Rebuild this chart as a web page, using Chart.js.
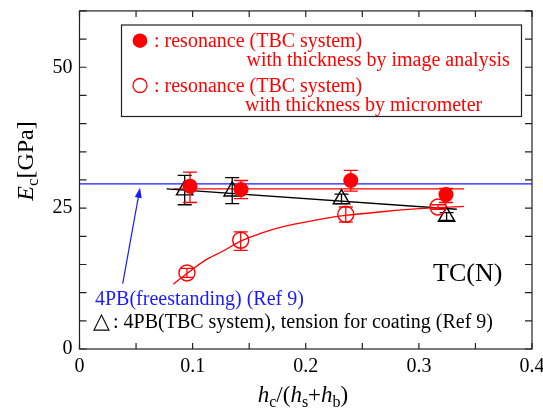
<!DOCTYPE html>
<html>
<head>
<meta charset="utf-8">
<script src="https://cdn.jsdelivr.net/npm/chart.js@4.4.1/dist/chart.umd.min.js"></script>
<style>
  html, body { margin: 0; padding: 0; background: #fff; }
  #wrap { width: 543px; height: 412px; }
</style>
</head>
<body>
<div id="wrap"><canvas id="chart" width="543" height="412"></canvas></div>
<script>
// resonance (TBC system), thickness by image analysis (filled circles)
const hcImage = [0.0977, 0.1428, 0.2398, 0.324]
const ecImage = [28.9, 28.3, 29.9, 27.4]
const ecImageHi = [31.4, 29.9, 31.7, 28.5]
const ecImageLo = [26.0, 26.7, 28.0, 26.0]

// resonance (TBC system), thickness by micrometer (open circles)
const hcMicro = [0.095, 0.1425, 0.2354, 0.317]
const ecMicro = [13.5, 19.3, 23.9, 25.2]
const ecMicroHi = [14.3, 20.8, 25.2, 25.6]
const ecMicroLo = [12.7, 17.5, 22.5, 24.8]

// 4PB (TBC system), tension for coating (triangles)
const hc4pb = [0.093, 0.135, 0.2316, 0.3245]
const ec4pb = [28.2, 28.0, 26.6, 23.5]
const ec4pbHi = [30.8, 30.4, 27.5, 24.2]
const ec4pbLo = [25.6, 25.8, 25.8, 22.8]

// fitted / reference lines
const curveX = [0.083, 0.095, 0.11, 0.127, 0.143, 0.16, 0.18, 0.21, 0.235, 0.27, 0.30, 0.34]
const curveY = [11.5, 13.4, 15.6, 17.4, 19.2, 20.5, 21.7, 22.9, 23.7, 24.4, 24.9, 25.3]
const redMeanX = [0.083, 0.34]
const redMeanY = [28.4, 28.4]
const blackFitX = [0.077, 0.3335]
const blackFitY = [28.4, 24.8]
const freeX = [0, 0.4]
const freeY = [29.3, 29.3]
const arrowX = [0.0382, 0.0535]
const arrowY = [11.6, 28.6]

const RED = "#ff0000"
const BLUE = "#1a1aff"
const SERIF = "'Liberation Serif', 'Times New Roman', serif"

const pts = (xs, ys) => xs.map((x, i) => ({ x: x, y: ys[i] }))

// error bars per dataset index
const errBars = {
  0: { hi: ecImageHi, lo: ecImageLo, color: RED, cap: 7 },
  1: { hi: ecMicroHi, lo: ecMicroLo, color: RED, cap: 7 },
  2: { hi: ec4pbHi, lo: ec4pbLo, color: "#000", cap: 7 }
}

const errorBarPlugin = {
  id: "errorBars",
  afterDatasetDraw(chart, args) {
    const eb = errBars[args.index]
    if (!eb) return
    const { ctx, scales: { x, y } } = chart
    const data = chart.data.datasets[args.index].data
    ctx.save()
    ctx.strokeStyle = eb.color
    ctx.lineWidth = 1.3
    data.forEach((p, i) => {
      const px = x.getPixelForValue(p.x)
      const yh = y.getPixelForValue(eb.hi[i])
      const yl = y.getPixelForValue(eb.lo[i])
      ctx.beginPath()
      ctx.moveTo(px, yh); ctx.lineTo(px, yl)
      ctx.moveTo(px - eb.cap, yh); ctx.lineTo(px + eb.cap, yh)
      ctx.moveTo(px - eb.cap, yl); ctx.lineTo(px + eb.cap, yl)
      ctx.stroke()
    })
    ctx.restore()
  }
}

// frame with inward ticks on all four sides, plus text annotations
const framePlugin = {
  id: "frame",
  afterDraw(chart) {
    const { ctx, chartArea: a, scales: { x, y } } = chart
    ctx.save()
    ctx.strokeStyle = "#222"
    ctx.lineWidth = 1.2
    ctx.strokeRect(a.left, a.top, a.right - a.left, a.bottom - a.top)
    ctx.beginPath()
    y.ticks.forEach(t => {
      const py = y.getPixelForValue(t.value)
      ctx.moveTo(a.left, py); ctx.lineTo(a.left + 7, py)
      ctx.moveTo(a.right, py); ctx.lineTo(a.right - 7, py)
    })
    x.ticks.forEach(t => {
      const px = x.getPixelForValue(t.value)
      ctx.moveTo(px, a.bottom); ctx.lineTo(px, a.bottom - 6)
      ctx.moveTo(px, a.top); ctx.lineTo(px, a.top + 6)
    })
    ctx.stroke()

    // blue arrow to the freestanding line
    const x0 = x.getPixelForValue(arrowX[0]), y0 = y.getPixelForValue(arrowY[0])
    const x1 = x.getPixelForValue(arrowX[1]), y1 = y.getPixelForValue(arrowY[1])
    const ang = Math.atan2(y1 - y0, x1 - x0)
    ctx.strokeStyle = BLUE
    ctx.fillStyle = BLUE
    ctx.lineWidth = 1.2
    ctx.beginPath()
    ctx.moveTo(x0, y0); ctx.lineTo(x1 - 8 * Math.cos(ang), y1 - 8 * Math.sin(ang))
    ctx.stroke()
    ctx.beginPath()
    ctx.moveTo(x1, y1)
    ctx.lineTo(x1 - 10 * Math.cos(ang) + 3.5 * Math.sin(ang), y1 - 10 * Math.sin(ang) - 3.5 * Math.cos(ang))
    ctx.lineTo(x1 - 10 * Math.cos(ang) - 3.5 * Math.sin(ang), y1 - 10 * Math.sin(ang) + 3.5 * Math.cos(ang))
    ctx.closePath()
    ctx.fill()

    // legend box
    ctx.fillStyle = "#fff"
    ctx.fillRect(121.5, 25, 400, 91.5)
    ctx.strokeStyle = "#222"
    ctx.lineWidth = 1.2
    ctx.strokeRect(121.5, 25, 400, 91.5)
    ctx.fillStyle = RED
    ctx.beginPath(); ctx.arc(140, 40.7, 7.3, 0, Math.PI * 2); ctx.fill()
    ctx.strokeStyle = RED
    ctx.lineWidth = 1.3
    ctx.beginPath(); ctx.arc(140, 85.5, 7, 0, Math.PI * 2); ctx.stroke()
    ctx.font = "20px " + SERIF
    ctx.textBaseline = "alphabetic"
    ctx.textAlign = "left"
    ctx.fillText(": resonance (TBC system)", 154, 47)
    ctx.fillText("with thickness by image analysis", 246.5, 66)
    ctx.fillText(": resonance (TBC system)", 154, 91.5)
    ctx.fillText("with thickness by micrometer", 245, 111)

    ctx.fillStyle = "#000"
    ctx.font = "26px " + SERIF
    ctx.fillText("TC(N)", 433, 280.5)

    ctx.fillStyle = BLUE
    ctx.font = "20px " + SERIF
    ctx.fillText("4PB(freestanding) (Ref 9)", 95, 305)

    ctx.fillStyle = "#000"
    ctx.font = "22px " + SERIF
    ctx.fillText("\u25B3", 93, 328)
    ctx.font = "20px " + SERIF
    ctx.fillText(": 4PB(TBC system), tension for coating (Ref 9)", 113, 328)

    // axis titles with subscripts
    ctx.fillStyle = "#000"
    const sub = (parts, cx, cy, rot) => {
      ctx.save()
      ctx.translate(cx, cy)
      if (rot) ctx.rotate(-Math.PI / 2)
      let w = 0
      parts.forEach(p => { ctx.font = p.f; w += ctx.measureText(p.t).width })
      let px = -w / 2
      parts.forEach(p => {
        ctx.font = p.f
        ctx.fillText(p.t, px, p.dy || 0)
        px += ctx.measureText(p.t).width
      })
      ctx.restore()
    }
    const itY = "italic 24px " + SERIF, rmY = "24px " + SERIF, smY = "17px " + SERIF
    sub([
      { t: "E", f: itY }, { t: "c", f: smY, dy: 5 }, { t: "[GPa]", f: rmY }
    ], 33, 161, true)
    const it = "italic 23px " + SERIF, rm = "23px " + SERIF, sm = "16px " + SERIF
    sub([
      { t: "h", f: it }, { t: "c", f: sm, dy: 5 }, { t: "/(", f: rm },
      { t: "h", f: it }, { t: "s", f: sm, dy: 5 }, { t: "+", f: rm },
      { t: "h", f: it }, { t: "b", f: sm, dy: 5 }, { t: ")", f: rm }
    ], 303, 402, false)
    ctx.restore()
  }
}

new Chart(document.getElementById("chart"), {
  type: "scatter",
  data: {
    datasets: [
      {
        label: "resonance, image analysis",
        data: pts(hcImage, ecImage),
        pointStyle: "circle",
        pointRadius: 7.5,
        backgroundColor: RED,
        borderColor: RED,
        borderWidth: 0,
        showLine: false
      },
      {
        label: "resonance, micrometer",
        data: pts(hcMicro, ecMicro),
        pointStyle: "circle",
        pointRadius: 8,
        backgroundColor: "rgba(0,0,0,0)",
        borderColor: RED,
        borderWidth: 1.4,
        showLine: false
      },
      {
        label: "4PB TBC system",
        data: pts(hc4pb, ec4pb),
        pointStyle: "triangle",
        pointRadius: 9.5,
        backgroundColor: "rgba(0,0,0,0)",
        borderColor: "#000",
        borderWidth: 1.4,
        showLine: false
      },
      {
        label: "fit micrometer",
        data: pts(curveX, curveY),
        showLine: true,
        pointRadius: 0,
        borderColor: RED,
        borderWidth: 1.3,
        cubicInterpolationMode: "monotone"
      },
      {
        label: "fit 4PB",
        data: pts(blackFitX, blackFitY),
        showLine: true,
        pointRadius: 0,
        borderColor: "#000",
        borderWidth: 1.3
      },
      {
        label: "mean image analysis",
        data: pts(redMeanX, redMeanY),
        showLine: true,
        pointRadius: 0,
        borderColor: RED,
        borderWidth: 1.3
      },
      {
        label: "4PB freestanding",
        data: pts(freeX, freeY),
        showLine: true,
        pointRadius: 0,
        borderColor: BLUE,
        borderWidth: 1.3
      }
    ]
  },
  options: {
    responsive: false,
    animation: false,
    layout: { padding: 0 },
    plugins: {
      legend: { display: false },
      tooltip: { enabled: false }
    },
    scales: {
      x: {
        type: "linear",
        min: 0,
        max: 0.4,
        grid: { display: false, drawTicks: false },
        border: { display: false },
        ticks: {
          stepSize: 0.05,
          autoSkip: false,
          maxRotation: 0,
          padding: 6,
          color: "#000",
          font: { family: SERIF, size: 20 },
          callback: v => {
            const k = Math.round(v * 100)
            if (k % 10 !== 0) return ""
            return k === 0 ? "0" : (k / 100).toFixed(1)
          }
        },
        afterFit: s => { s.height = 63; s.paddingLeft = 0; s.paddingRight = 11 }
      },
      y: {
        min: 0,
        max: 60,
        grid: { display: false, drawTicks: false },
        border: { display: false },
        ticks: {
          stepSize: 5,
          autoSkip: false,
          padding: 7,
          color: "#000",
          font: { family: SERIF, size: 20 },
          callback: v => (v % 25 === 0 ? String(v) : "")
        },
        afterFit: s => { s.width = 79.5; s.paddingTop = 10; s.paddingBottom = 0 }
      }
    }
  },
  plugins: [errorBarPlugin, framePlugin]
})
</script>
</body>
</html>
